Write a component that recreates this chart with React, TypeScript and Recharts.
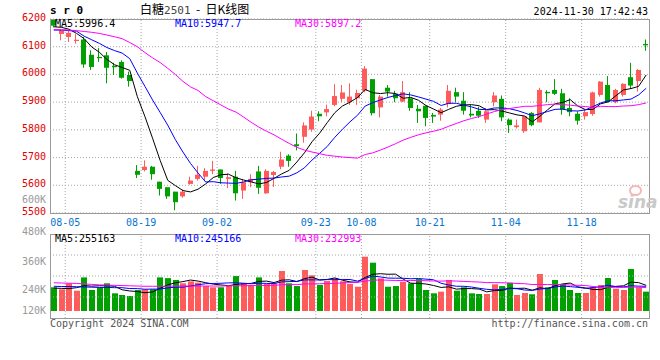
import { Bar, CartesianGrid, ComposedChart, Line, ReferenceLine, XAxis, YAxis } from "recharts"

const MONO = '"DejaVu Sans Mono", monospace'
const RED = "#ff5b5b"
const GREEN = "#00a000"
const GRID = "#a8a8a8"

// trading days shown on the chart
const dates = [
  "08-01", "08-02", "08-05", "08-06", "08-07", "08-08", "08-09", "08-12", "08-13", "08-14",
  "08-15", "08-16", "08-19", "08-20", "08-21", "08-22", "08-23", "08-26", "08-27", "08-28",
  "08-29", "08-30", "09-02", "09-03", "09-04", "09-05", "09-06", "09-09", "09-10", "09-11",
  "09-12", "09-13", "09-18", "09-19", "09-20", "09-23", "09-24", "09-25", "09-26", "09-27",
  "09-30", "10-08", "10-09", "10-10", "10-11", "10-14", "10-15", "10-16", "10-17", "10-18",
  "10-21", "10-22", "10-23", "10-24", "10-25", "10-28", "10-29", "10-30", "10-31", "11-01",
  "11-04", "11-05", "11-06", "11-07", "11-08", "11-11", "11-12", "11-13", "11-14", "11-15",
  "11-18", "11-19", "11-20", "11-21", "11-22", "11-25", "11-26", "11-27", "11-28",
]

const opens = [
  6200, 6146, 6135, 6122, 6126, 6071, 6063, 6069, 6031, 6045,
  5998, 5652, 5655, 5667, 5613, 5593, 5577, 5560, 5605, 5623,
  5631, 5652, 5657, 5623, 5631, 5581, 5611, 5650, 5571, 5637,
  5667, 5707, 5748, 5775, 5801, 5858, 5863, 5890, 5912, 5900,
  5914, 5941, 5983, 5881, 5952, 5931, 5902, 5914, 5876, 5887,
  5854, 5855, 5893, 5936, 5905, 5858, 5869, 5837, 5900, 5912,
  5837, 5810, 5795, 5861, 5827, 5937, 5944, 5932, 5879, 5858,
  5849, 5857, 5926, 5962, 5900, 5926, 5990, 5976, 6110,
]
const highs = [
  6205, 6164, 6158, 6146, 6135, 6087, 6095, 6081, 6042, 6051,
  6010, 5673, 5690, 5670, 5613, 5593, 5577, 5585, 5631, 5670,
  5662, 5688, 5657, 5643, 5652, 5623, 5640, 5670, 5658, 5652,
  5721, 5712, 5787, 5827, 5869, 5867, 5891, 5965, 5962, 5968,
  5945, 6030, 5983, 5926, 5962, 5941, 5976, 5936, 5890, 5887,
  5861, 5879, 5962, 5952, 5936, 5890, 5883, 5879, 5936, 5924,
  5841, 5837, 5849, 5864, 5952, 5943, 5983, 5948, 5914, 5867,
  5873, 5938, 5976, 5994, 5948, 5968, 6042, 6019, 6126,
]
const lows = [
  6170, 6123, 6117, 6111, 6024, 6016, 6045, 5968, 5998, 5985,
  5956, 5626, 5650, 5620, 5563, 5551, 5510, 5555, 5602, 5617,
  5617, 5640, 5605, 5590, 5545, 5551, 5593, 5569, 5569, 5594,
  5658, 5667, 5726, 5754, 5793, 5831, 5849, 5885, 5900, 5890,
  5890, 5936, 5852, 5845, 5920, 5900, 5900, 5869, 5825, 5813,
  5825, 5833, 5881, 5900, 5855, 5845, 5843, 5825, 5885, 5831,
  5789, 5805, 5789, 5813, 5827, 5900, 5926, 5855, 5849, 5819,
  5837, 5851, 5920, 5900, 5896, 5920, 5948, 5938, 6085,
]
const closes = [
  6176, 6158, 6150, 6125, 6036, 6027, 6060, 6024, 6026, 5988,
  5976, 5638, 5667, 5640, 5587, 5560, 5539, 5577, 5617, 5638,
  5652, 5657, 5626, 5629, 5571, 5611, 5623, 5591, 5652, 5648,
  5693, 5688, 5741, 5816, 5848, 5849, 5875, 5922, 5935, 5920,
  5933, 6021, 5860, 5920, 5938, 5914, 5936, 5879, 5867, 5843,
  5848, 5873, 5941, 5920, 5869, 5852, 5851, 5867, 5924, 5845,
  5817, 5816, 5849, 5817, 5944, 5932, 5930, 5873, 5864, 5833,
  5864, 5935, 5974, 5900, 5944, 5966, 5960, 6016, 6105,
]

const ma5 = [
  6172, 6170, 6163, 6148, 6129, 6099, 6080, 6054, 6035, 6025,
  6015, 5920, 5848, 5770, 5690, 5618, 5599, 5581, 5576, 5586,
  5605, 5628, 5638, 5640, 5627, 5619, 5612, 5605, 5610, 5625,
  5641, 5654, 5684, 5717, 5757, 5788, 5826, 5862, 5886, 5900,
  5917, 5946, 5934, 5931, 5934, 5931, 5914, 5917, 5907, 5888,
  5875, 5862, 5874, 5885, 5890, 5891, 5887, 5872, 5873, 5868,
  5861, 5854, 5850, 5829, 5849, 5872, 5894, 5899, 5909, 5886,
  5873, 5874, 5894, 5901, 5923, 5944, 5949, 5957, 5998,
]
const ma10 = [
  6160, 6160, 6158, 6156, 6138, 6125, 6112, 6097, 6086, 6077,
  6057, 6005, 5957, 5908, 5863, 5817, 5765, 5720, 5679, 5644,
  5612, 5613, 5609, 5608, 5607, 5612, 5620, 5622, 5625, 5626,
  5630, 5633, 5645, 5663, 5691, 5715, 5740, 5773, 5802, 5829,
  5853, 5886, 5898, 5908, 5917, 5924, 5930, 5926, 5919, 5911,
  5903, 5888, 5896, 5896, 5889, 5883, 5874, 5873, 5879, 5879,
  5876, 5870, 5861, 5851, 5858, 5866, 5874, 5875, 5869, 5868,
  5872, 5884, 5897, 5905, 5905, 5908, 5911, 5926, 5950,
]
const ma30 = [
  6162, 6161, 6160, 6158, 6155, 6152, 6148, 6142, 6136, 6129,
  6115, 6100, 6079, 6060, 6043, 6022, 6000, 5975, 5955, 5942,
  5920, 5905, 5890, 5875, 5864, 5846, 5827, 5810, 5795, 5782,
  5766, 5751, 5737, 5727, 5720, 5714, 5708, 5705, 5702, 5700,
  5698, 5711, 5717, 5727, 5738, 5750, 5763, 5773, 5782, 5789,
  5795, 5802, 5813, 5823, 5833, 5841, 5848, 5857, 5866, 5873,
  5877, 5881, 5885, 5885, 5888, 5891, 5893, 5891, 5889, 5886,
  5884, 5881, 5885, 5884, 5884, 5886, 5887, 5891, 5897,
]

// volume, in thousands of lots
const volumes = [
  251.6, 243, 268.7, 237, 294, 240, 251.6, 268.7, 225.8, 218.6,
  214.3, 240, 243, 243, 294, 291, 283, 268.7, 277, 271.5,
  257, 251.6, 251.6, 260, 300, 268.7, 261.7, 294, 265.9, 268.7,
  321.4, 268.7, 257, 325.7, 303, 261.7, 278.6, 290, 277.3, 265.7,
  254, 382.7, 357, 290, 254, 257, 275.6, 268.7, 287, 240,
  225.8, 232.9, 282.9, 237, 251.6, 225.8, 222.9, 222.9, 264.4, 257,
  271.3, 218.6, 227.2, 221.6, 308.6, 251.6, 282.9, 265.7, 240, 227.2,
  227.2, 251.6, 261.4, 291.4, 245.7, 240, 330, 251.6, 232.9,
]
const vma5 = [
  248, 247, 246, 250, 258.9, 256.5, 258.3, 258.3, 256, 240.9,
  235.8, 233.5, 228.3, 231.8, 246.9, 262.2, 270.8, 275.9, 282.7, 278.2,
  271.4, 265.2, 261.7, 258.3, 264, 266.4, 268.4, 276.9, 278.1, 271.8,
  282.3, 283.7, 276.3, 288.3, 295.2, 283.2, 285.2, 291.8, 282.1, 274.7,
  273.1, 293.9, 307.3, 309.9, 307.5, 308.1, 286.7, 269.1, 268.5, 265.7,
  259.4, 250.9, 253.7, 243.7, 246, 246, 244, 232, 237.5, 238.6,
  247.7, 246.8, 247.7, 239.1, 249.5, 245.5, 258.4, 266.1, 269.8, 253.5,
  248.6, 242.3, 241.5, 251.8, 255.5, 258, 273.7, 271.7, 260,
]
const vma10 = [
  256, 255, 255, 254, 253, 252, 251, 251, 250, 249.9,
  246.2, 245.9, 243.3, 243.9, 243.9, 249, 252.1, 252.1, 257.3, 262.6,
  266.8, 268, 268.8, 270.5, 271.1, 268.9, 266.8, 269.3, 268.2, 267.9,
  274.4, 276.1, 276.6, 283.2, 283.5, 282.8, 284.5, 284.1, 285.2, 284.9,
  278.2, 289.6, 299.6, 296, 291.1, 290.6, 290.3, 288.2, 289.2, 286.6,
  283.8, 268.8, 261.4, 256.1, 255.9, 252.7, 247.5, 242.9, 240.6, 242.3,
  246.9, 245.4, 239.9, 238.3, 244, 246.6, 252.6, 256.9, 254.5, 251.5,
  247.1, 250.4, 253.8, 260.8, 254.5, 253.3, 258, 256.6, 255.9,
]
const vma30 = [
  271, 270, 269, 268, 266, 264, 262, 261, 260, 259,
  258, 257, 256, 256, 256, 256, 257, 257, 257, 257,
  257, 257, 257, 258, 258, 258, 259, 259, 259, 260.1,
  262.5, 263.3, 262.9, 265.9, 266.2, 266.9, 267.8, 268.5, 270.2, 271.8,
  273.1, 277.9, 281.7, 283.2, 281.9, 280.8, 280.5, 280.5, 280.9, 279.8,
  278.8, 278.1, 279.2, 278.4, 276.8, 275.4, 274.1, 271.7, 271.7, 271.3,
  269.6, 267.9, 266.9, 263.5, 263.7, 263.3, 263.5, 262.7, 261.4, 260.1,
  259.2, 254.9, 251.7, 251.7, 251.5, 250.9, 252.7, 252.1, 250.3,
]

const priceTicks = [5500, 5600, 5700, 5800, 5900, 6000, 6100, 6200]
const dateTicks = ["08-05", "08-19", "09-02", "09-23", "10-08", "10-21", "11-04", "11-18"]
const volTicks = [120, 240, 360, 480]
const volGridLines = [210, 300, 390]
const VOL_FLOOR = 150

const rows = dates.map((date, i) => ({
  date,
  open: opens[i],
  high: highs[i],
  low: lows[i],
  close: closes[i],
  ma5: ma5[i],
  ma10: ma10[i],
  ma30: ma30[i],
  vol: volumes[i],
  vma5: vma5[i],
  vma10: vma10[i],
  vma30: vma30[i],
}))

const BAND = 600 / dates.length

function Candle(props: any) {
  const { x, y, width, height, payload } = props
  const top0 = Math.min(y, y + height)
  const h = Math.abs(height)
  const { open, close, high, low } = payload
  const color = close >= open ? RED : GREEN
  const span = high - low || 1
  const yOf = (v: number) => top0 + ((high - v) / span) * h
  const bodyTop = yOf(Math.max(open, close))
  const bodyBottom = yOf(Math.min(open, close))
  const cx = Math.round(x + width / 2) - 0.5
  return (
    <g>
      <line x1={cx} x2={cx} y1={top0} y2={top0 + h} stroke={color} strokeWidth={1} />
      <rect x={Math.round(x)} y={bodyTop} width={width} height={Math.max(bodyBottom - bodyTop, 1.2)} fill={color} />
    </g>
  )
}

function VolumeBar(props: any) {
  const { x, y, width, height, payload } = props
  const color = payload.close >= payload.open ? RED : GREEN
  return <rect x={Math.round(x)} y={Math.min(y, y + height)} width={width} height={Math.abs(height)} fill={color} />
}

function PriceTick({ x, y, payload }: any) {
  return (
    <text x={x} y={y - 1.5} textAnchor="end" dominantBaseline="central" fill="#e00000" fontSize={10} fontFamily={MONO}>
      {payload.value}
    </text>
  )
}

function VolTick({ x, y, payload }: any) {
  const v = payload.value
  const dy = v === 120 ? -8 : v === 480 ? -3 : -1
  return (
    <text x={x} y={y + dy} textAnchor="end" dominantBaseline="central" fill="#999" fontSize={10} fontFamily={MONO}>
      {v}K
    </text>
  )
}

function DateTick({ x, y, payload }: any) {
  return (
    <text x={x - BAND / 2} y={y + 5} textAnchor="middle" dominantBaseline="central" fill="#0a74d0" fontSize={10} fontFamily={MONO}>
      {payload.value}
    </text>
  )
}

function Label({ x, y, color = "#000", right, children, style }: any) {
  return (
    <div
      style={{
        position: "absolute",
        top: y - 6,
        left: right ? undefined : x,
        right: right ? 660 - x : undefined,
        lineHeight: "12px",
        fontSize: 10,
        fontFamily: MONO,
        color,
        whiteSpace: "pre",
        ...style,
      }}
    >
      {children}
    </div>
  )
}

const dotted = { stroke: GRID, strokeDasharray: "1 2" }

export default function App() {
  return (
    <div style={{ position: "absolute", left: 0, top: 0, width: 660, height: 360, background: "#fff", overflow: "hidden" }}>
      <div style={{ position: "absolute", left: 0, top: 0 }}>
        <ComposedChart width={660} height={360} data={rows} margin={{ top: 19, right: 10, bottom: 127, left: 0 }}>
          <CartesianGrid vertical={false} {...dotted} />
          {dateTicks.map((d) => (
            <ReferenceLine key={d} x={d} position="start" {...dotted} />
          ))}
          <XAxis
            dataKey="date"
            ticks={dateTicks}
            interval={0}
            height={20}
            tick={<DateTick />}
            tickLine={false}
            axisLine={false}
            tickSize={2}
            tickMargin={2}
          />
          <YAxis
            domain={[5500, 6200]}
            ticks={priceTicks}
            interval={0}
            allowDataOverflow
            width={50}
            tick={<PriceTick />}
            tickLine={false}
            axisLine={false}
            tickSize={2}
            tickMargin={2}
          />
          <Bar dataKey={(r: any) => [r.low, r.high]} barSize={5} shape={<Candle />} isAnimationActive={false} />
          <Line type="linear" dataKey="ma5" stroke="#000" strokeWidth={1} dot={false} isAnimationActive={false} />
          <Line type="linear" dataKey="ma10" stroke="#0000ff" strokeWidth={1} dot={false} isAnimationActive={false} />
          <Line type="linear" dataKey="ma30" stroke="#ff00ff" strokeWidth={1} dot={false} isAnimationActive={false} />
        </ComposedChart>
      </div>

      <div style={{ position: "absolute", left: 0, top: 0 }}>
        <ComposedChart width={660} height={360} data={rows} margin={{ top: 234, right: 10, bottom: 42, left: 0 }}>
          {volGridLines.map((v) => (
            <ReferenceLine key={v} y={v} {...dotted} />
          ))}
          {dateTicks.map((d) => (
            <ReferenceLine key={d} x={d} position="start" {...dotted} />
          ))}
          <XAxis dataKey="date" hide />
          <YAxis
            domain={[120, 480]}
            ticks={volTicks}
            interval={0}
            allowDataOverflow
            width={50}
            tick={<VolTick />}
            tickLine={false}
            axisLine={false}
            tickSize={2}
            tickMargin={2}
          />
          <Bar dataKey={(r: any) => [VOL_FLOOR, r.vol]} barSize={6} shape={<VolumeBar />} isAnimationActive={false} />
          <Line type="linear" dataKey="vma5" stroke="#000" strokeWidth={1} dot={false} isAnimationActive={false} />
          <Line type="linear" dataKey="vma10" stroke="#0000ff" strokeWidth={1} dot={false} isAnimationActive={false} />
          <Line type="linear" dataKey="vma30" stroke="#ff00ff" strokeWidth={1} dot={false} isAnimationActive={false} />
        </ComposedChart>
      </div>

      {/* panel frames */}
      <div style={{ position: "absolute", left: 50, top: 19, width: 600, height: 195, border: "1px solid #999", boxSizing: "border-box" }} />
      <div style={{ position: "absolute", left: 50, top: 234, width: 600, height: 85, border: "1px solid #999", boxSizing: "border-box" }} />

      {/* header */}
      <Label x={50} y={11} style={{ fontSize: 11, fontWeight: "bold" }}>s r 0</Label>
      <Label x={140} y={9} style={{ fontSize: 12, fontFamily: '"Noto Sans CJK SC", sans-serif', lineHeight: "14px", top: 2 }}>
        白糖<span style={{ color: "#444", fontFamily: MONO, fontSize: 11 }}>2501</span>  -  日K线图
      </Label>
      <Label x={648} y={12} right>2024-11-30 17:42:43</Label>

      <Label x={55} y={24}>MA5:5996.4</Label>
      <Label x={175} y={24} color="#0000ff">MA10:5947.7</Label>
      <Label x={295} y={24} color="#ff00ff">MA30:5897.2</Label>
      <Label x={46} y={200} right color="#999">600K</Label>

      <Label x={55} y={239}>MA5:255163</Label>
      <Label x={175} y={239} color="#0000ff">MA10:245166</Label>
      <Label x={295} y={239} color="#ff00ff">MA30:232993</Label>

      <div
        style={{
          position: "absolute",
          left: 618,
          top: 193,
          fontFamily: '"DejaVu Sans", sans-serif',
          fontSize: 17,
          fontStyle: "italic",
          fontWeight: "bold",
          color: "#c9c9c9",
          lineHeight: "18px",
        }}
      >
        sina
      </div>
      <div style={{ position: "absolute", left: 629, top: 185, width: 9, height: 7, borderRadius: "50%", border: "2px solid #f4b8b8" }} />

      <Label x={50} y={324} color="#555">Copyright 2024 SINA.COM</Label>
      <Label x={648} y={324} right color="#555">http://finance.sina.com.cn</Label>
    </div>
  )
}
